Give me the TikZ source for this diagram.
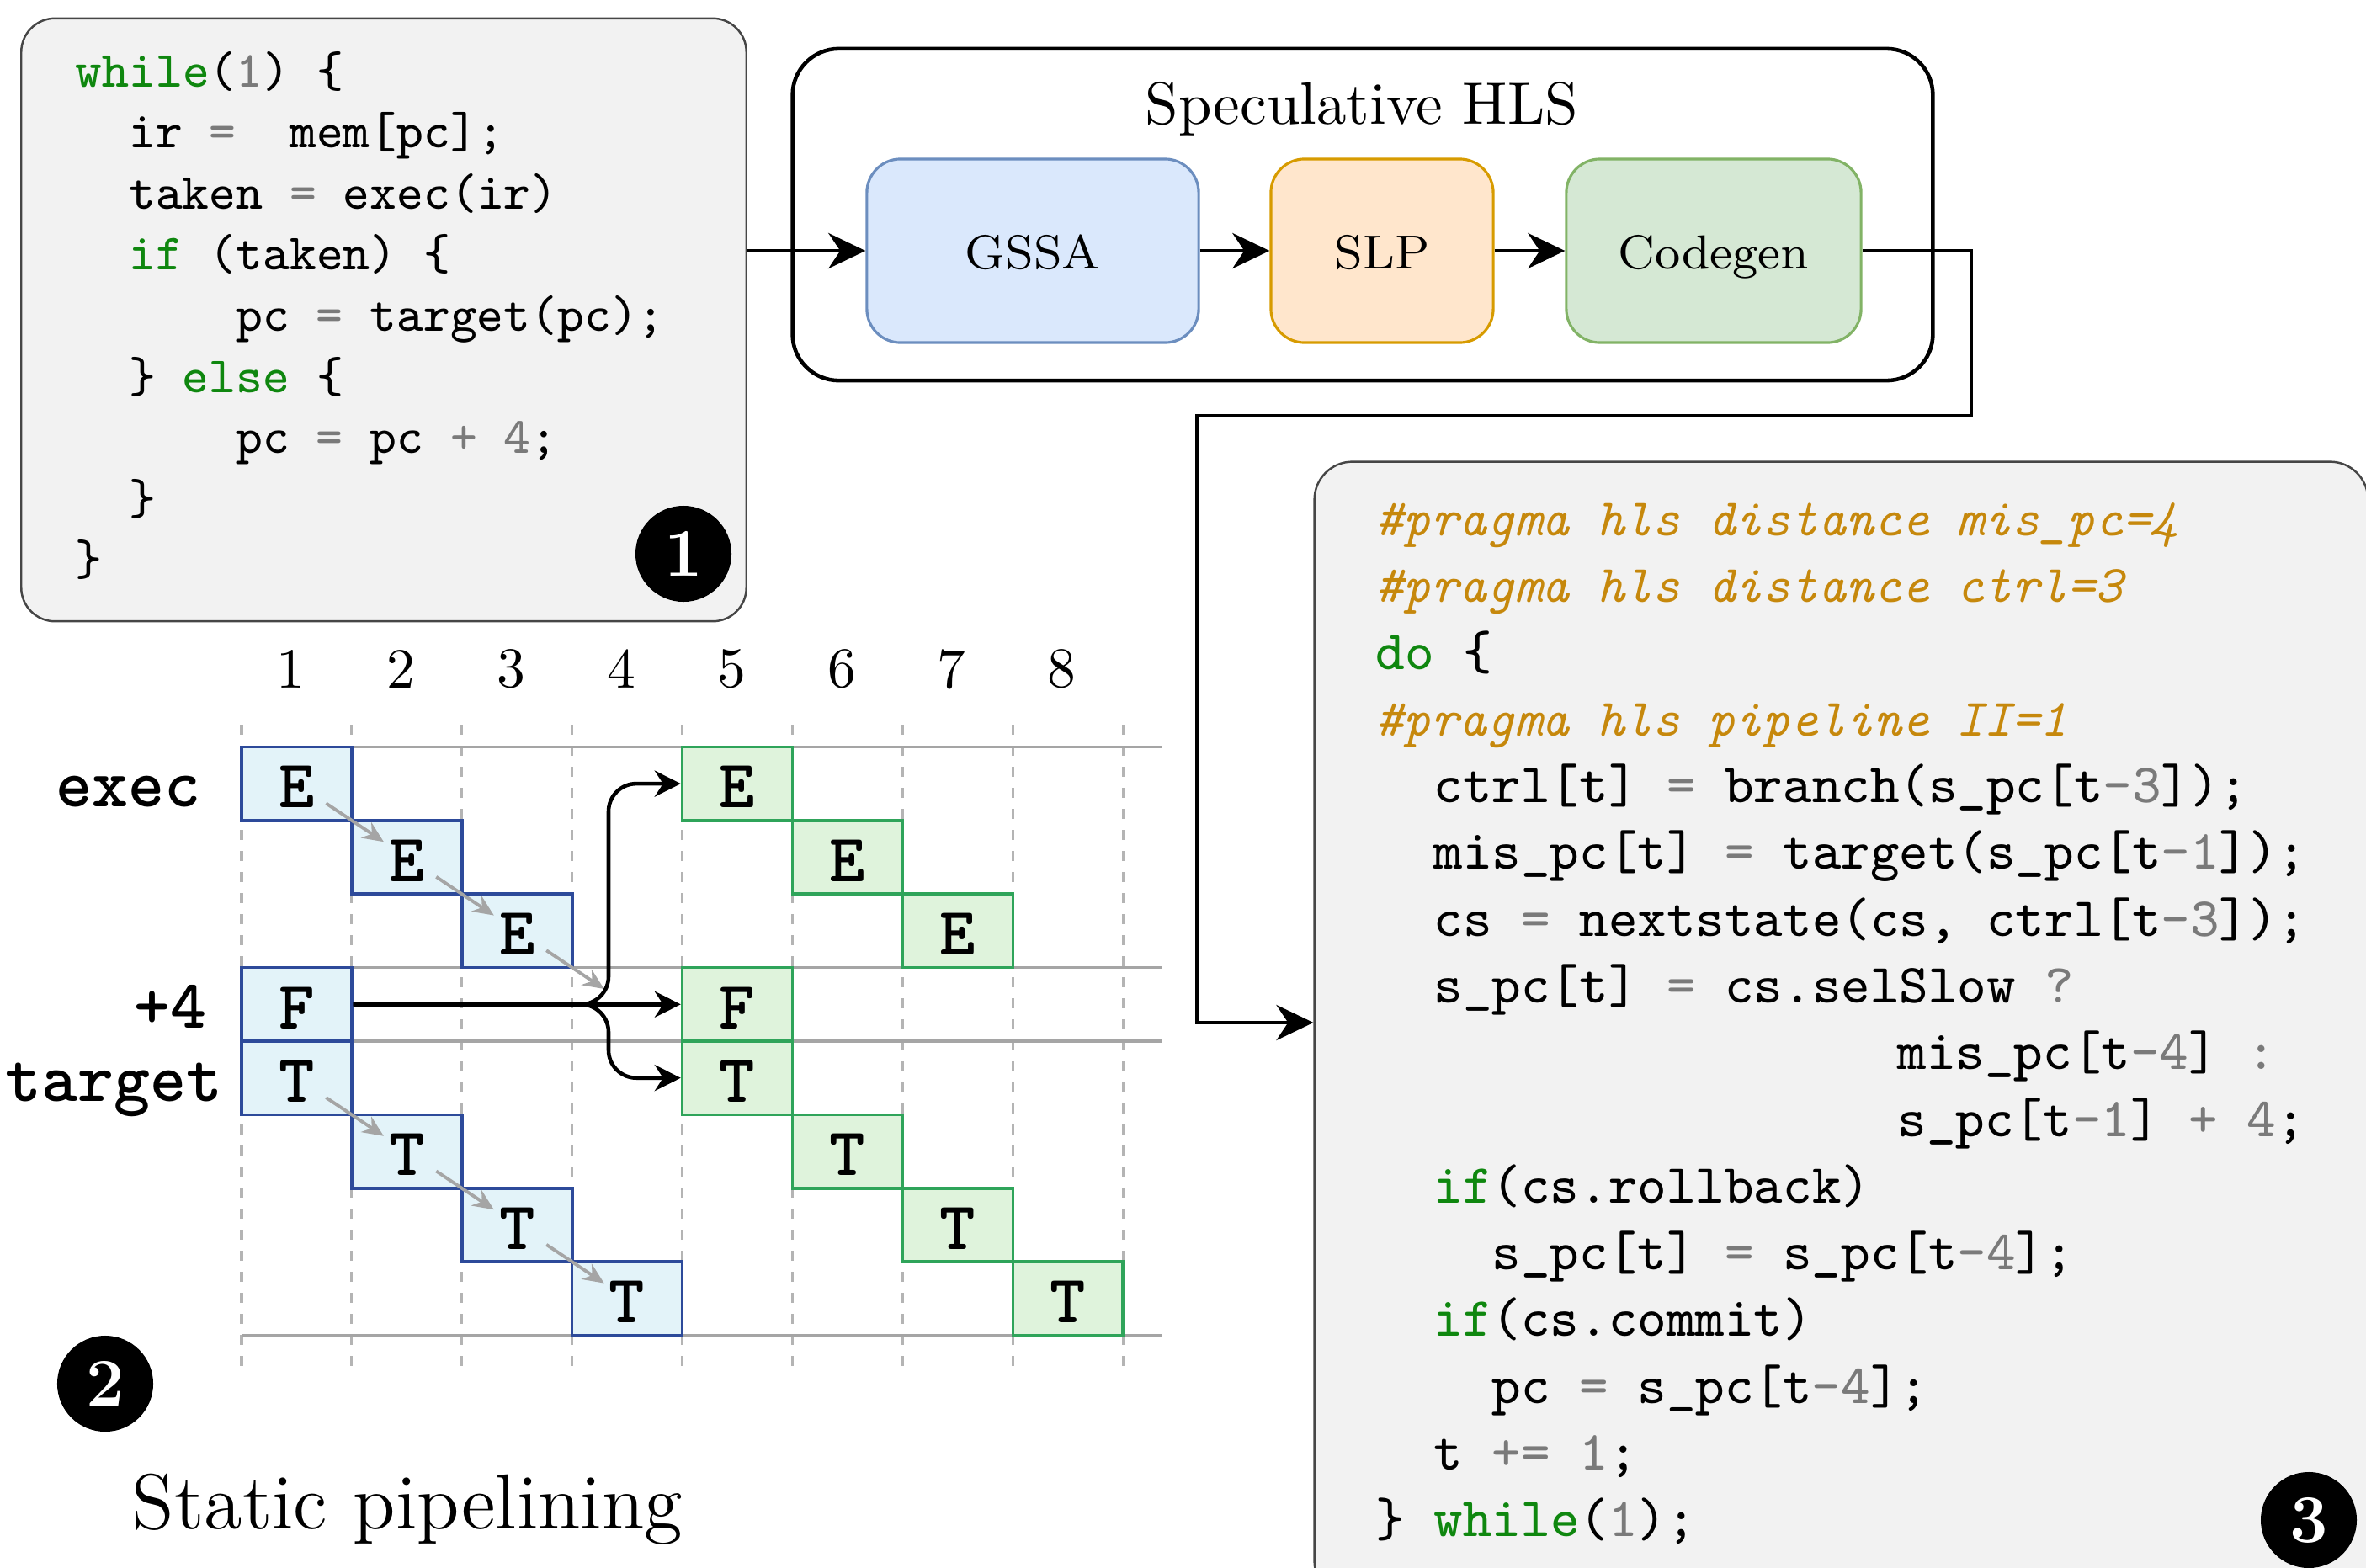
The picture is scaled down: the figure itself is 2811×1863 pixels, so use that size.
\documentclass[tikz,border=0pt]{standalone}
\usetikzlibrary{arrows.meta}
\definecolor{kwgreen}{RGB}{15,135,15}
\definecolor{numgray}{RGB}{122,122,122}
\definecolor{pragcol}{RGB}{198,136,12}
\definecolor{boxgray}{RGB}{242,242,242}
\definecolor{boxline}{RGB}{70,70,70}
\definecolor{gssafill}{HTML}{DAE8FC}\definecolor{gssaline}{HTML}{6C8EBF}
\definecolor{slpfill}{HTML}{FFE6CC}\definecolor{slpline}{HTML}{D79B00}
\definecolor{cgfill}{HTML}{D5E8D4}\definecolor{cgline}{HTML}{82B366}
\definecolor{cellbfill}{HTML}{E3F3F9}\definecolor{cellbline}{HTML}{2D4A9A}
\definecolor{cellgfill}{HTML}{DFF3DC}\definecolor{cellgline}{HTML}{2FA45A}
\definecolor{gridgray}{RGB}{165,165,165}
\definecolor{dashgray}{RGB}{180,180,180}
\newcommand\mykw[1]{\textcolor{kwgreen}{#1}}
\newcommand\mygy[1]{\textcolor{numgray}{#1}}
\newcommand\SX[1]{\scalebox{2}{#1}}
\newcommand\mkcell[5]{\node[#1] (#2) at ({287+130.9*(#3-0.5)},{887.4+87.4*(#4+0.5)}) {#5};}
\begin{document}
\begin{tikzpicture}[x=0.01cm,y=-0.01cm,
  codeA/.style={anchor=base west, inner sep=0pt, font=\fontsize{8.62}{10}\selectfont\ttfamily},
  codeB/.style={anchor=base west, inner sep=0pt, font=\fontsize{9.36}{11}\selectfont\ttfamily},
  codeP/.style={anchor=base west, inner sep=0pt, text=pragcol, font=\fontsize{8.9}{11}\selectfont\ttfamily\itshape},
  codebox/.style={draw=boxline, fill=boxgray, line width=0.7pt, rounded corners=0.4cm, inner sep=0pt},
  badge/.style={circle, fill=black, text=white, minimum size=1.14cm, inner sep=0pt, font=\bfseries\fontsize{11.5}{12}\selectfont},
  stage/.style={rounded corners=0.4cm, line width=0.9pt, minimum height=2.18cm, inner sep=0pt, font=\fontsize{8.1}{10}\selectfont, text height=16pt, text depth=4pt},
  bigarr/.style={line width=1.3pt, -{Stealth[length=0.44cm,width=0.42cm,inset=0.14cm]}},
  parr/.style={line width=1.3pt, -{Stealth[length=0.31cm,width=0.31cm,inset=0.1cm]}},
  garr/.style={line width=1.1pt, draw=gridgray, -{Stealth[length=0.25cm,width=0.22cm]}, shorten <=0.42cm, shorten >=0.33cm},
  cellb/.style={draw=cellbline, fill=cellbfill, line width=1pt, minimum width=1.309cm, minimum height=0.874cm, inner sep=0pt, text height=16.4pt, text depth=0pt, font=\fontsize{11.5}{12}\selectfont\ttfamily\bfseries},
  cellg/.style={cellb, draw=cellgline, fill=cellgfill},
  lbl/.style={anchor=base east, inner sep=0pt, font=\fontsize{11.65}{12}\selectfont\ttfamily\bfseries},
  colnum/.style={inner sep=0pt, font=\fontsize{9.6}{11}\selectfont},
  gridh/.style={draw=gridgray, line width=1pt},
  gridv/.style={draw=dashgray, line width=0.9pt, dash pattern=on 0.12cm off 0.13cm}
]
\useasboundingbox (0,0) rectangle (2811,1863);
\clip (0,0) rectangle (2811,1863);

% ---------- box 1 ----------
\node[codebox, minimum width=8.61cm, minimum height=7.16cm] (box1) at (456,380) {};
\node[codeA] (a1) at (89,103) {\SX{\mykw{while}(\mygy{1}) \{}};
\node[codeA] (a2) at (152.6,175.6) {\SX{ir \mygy{=}\ \ mem[pc];}};
\node[codeA] (a3) at (152.6,248.2) {\SX{taken \mygy{=} exec(ir)}};
\node[codeA] (a4) at (152.6,320.8) {\SX{\mykw{if} (taken) \{}};
\node[codeA] (a5) at (279.8,393.4) {\SX{pc \mygy{=} target(pc);}};
\node[codeA] (a6) at (152.6,466) {\SX{\} \mykw{else} \{}};
\node[codeA] (a7) at (279.8,538.6) {\SX{pc \mygy{=} pc \mygy{+} \mygy{4};}};
\node[codeA] (a8) at (152.6,611.2) {\SX{\}}};
\node[codeA] (a9) at (89,683.8) {\SX{\}}};
\node[badge] (bd1) at (812,658) {\SX{1}};

% ---------- HLS ----------
\node[draw=black, line width=1.3pt, rounded corners=0.55cm, minimum width=13.54cm, minimum height=3.94cm, inner sep=0pt] (hls) at (1619,255) {};
\node[anchor=base, inner sep=0pt, font=\fontsize{10.1}{12}\selectfont] (title) at (1618,147) {\SX{Speculative HLS}};
\node[stage, draw=gssaline, fill=gssafill, minimum width=3.94cm] (gssa) at (1227,298) {\SX{GSSA}};
\node[stage, draw=slpline, fill=slpfill, minimum width=2.64cm] (slp) at (1642,298) {\SX{SLP}};
\node[stage, draw=cgline, fill=cgfill, minimum width=3.50cm] (cg) at (2036,298) {\SX{Codegen}};

% ---------- box 3 ----------
\node[codebox, rounded corners=0.45cm, minimum width=12.51cm, minimum height=13.51cm] (box3) at (2187.5,1224.5) {};
\node[codeP] (p1) at (1634,636) {\SX{\#pragma hls distance mis\_pc=4}};
\node[codeP] (p2) at (1634,715) {\SX{\#pragma hls distance ctrl=3}};
\node[codeB] (c1) at (1634,795) {\SX{\mykw{do} \{}};
\node[codeP] (p3) at (1634,874) {\SX{\#pragma hls pipeline II=1}};
\node[codeB] (c2) at (1703,953) {\SX{ctrl[t] \mygy{=} branch(s\_pc[t\mygy{-3}]);}};
\node[codeB] (c3) at (1703,1032) {\SX{mis\_pc[t] \mygy{=} target(s\_pc[t\mygy{-1}]);}};
\node[codeB] (c4) at (1703,1112) {\SX{cs \mygy{=} nextstate(cs, ctrl[t\mygy{-3}]);}};
\node[codeB] (c5) at (1703,1191) {\SX{s\_pc[t] \mygy{=} cs.selSlow \mygy{?}}};
\node[codeB] (c6) at (2254,1270) {\SX{mis\_pc[t\mygy{-4}] \mygy{:}}};
\node[codeB] (c7) at (2254,1350) {\SX{s\_pc[t\mygy{-1}] \mygy{+} \mygy{4};}};
\node[codeB] (c8) at (1703,1429) {\SX{\mykw{if}(cs.rollback)}};
\node[codeB] (c9) at (1772,1508) {\SX{s\_pc[t] \mygy{=} s\_pc[t\mygy{-4}];}};
\node[codeB] (c10) at (1703,1587) {\SX{\mykw{if}(cs.commit)}};
\node[codeB] (c11) at (1772,1667) {\SX{pc \mygy{=} s\_pc[t\mygy{-4}];}};
\node[codeB] (c12) at (1703,1746) {\SX{t \mygy{+=} \mygy{1};}};
\node[codeB] (c13) at (1634,1825) {\SX{\} \mykw{while}(\mygy{1});}};
\node[badge] (bd3) at (2743,1806) {\SX{3}};

% ---------- connectors top ----------
\draw[bigarr] (box1.east |- gssa.west) -- (gssa.west);
\draw[bigarr] (gssa.east) -- (slp.west);
\draw[bigarr] (slp.east) -- (cg.west);
\coordinate (k1) at (2342,494);
\coordinate (k2) at (1422,1215);
\draw[bigarr] (cg.east) -| (k1) -| (k2) -- (box3.west |- k2);

% ---------- pipeline ----------
\foreach \i in {0,...,8} \draw[gridv] ({287+130.9*\i},861) -- ({287+130.9*\i},1628);
\foreach \yy in {887.4,1149.6,1237,1586.6} \draw[gridh] (287,\yy) -- (1380,\yy);
\foreach \i in {1,...,8} \node[colnum] (n\i) at ({280+130.9*(\i-0.5)},795) {\SX{\i}};

\mkcell{cellb}{bE1}{1}{0}{\SX{E}}
\mkcell{cellb}{bE2}{2}{1}{\SX{E}}
\mkcell{cellb}{bE3}{3}{2}{\SX{E}}
\mkcell{cellb}{bF1}{1}{3}{\SX{F}}
\mkcell{cellb}{bT1}{1}{4}{\SX{T}}
\mkcell{cellb}{bT2}{2}{5}{\SX{T}}
\mkcell{cellb}{bT3}{3}{6}{\SX{T}}
\mkcell{cellb}{bT4}{4}{7}{\SX{T}}
\mkcell{cellg}{gE5}{5}{0}{\SX{E}}
\mkcell{cellg}{gE6}{6}{1}{\SX{E}}
\mkcell{cellg}{gE7}{7}{2}{\SX{E}}
\mkcell{cellg}{gF5}{5}{3}{\SX{F}}
\mkcell{cellg}{gT5}{5}{4}{\SX{T}}
\mkcell{cellg}{gT6}{6}{5}{\SX{T}}
\mkcell{cellg}{gT7}{7}{6}{\SX{T}}
\mkcell{cellg}{gT8}{8}{7}{\SX{T}}

\coordinate (j43) at ({287+130.9*3.5},{887.4+87.4*3.5});
\draw[garr] (bE1.center) -- (bE2.center);
\draw[garr] (bE2.center) -- (bE3.center);
\draw[garr] (bE3.center) -- (j43);
\draw[garr] (bT1.center) -- (bT2.center);
\draw[garr] (bT2.center) -- (bT3.center);
\draw[garr] (bT3.center) -- (bT4.center);

\coordinate (bx) at (723,1193.3);
\draw[parr] (bF1.east) -- (gF5.west);
\draw[parr, rounded corners=0.33cm] (bF1.east) -| (bx |- gE5.west) -- (gE5.west);
\draw[parr, rounded corners=0.33cm] (bF1.east) -| (bx |- gT5.west) -- (gT5.west);

\node[lbl] (lexec) at (239,958) {\SX{exec}};
\node[lbl] (lplus) at (246,1221) {\SX{+4}};
\node[lbl] (ltarget) at (265,1308) {\SX{target}};

\node[badge] (bd2) at (125,1644) {\SX{2}};
\node[anchor=base, inner sep=0pt, font=\fontsize{13.2}{15}\selectfont] (static) at (484,1816) {\SX{Static pipelining}};
\end{tikzpicture}
\end{document}
